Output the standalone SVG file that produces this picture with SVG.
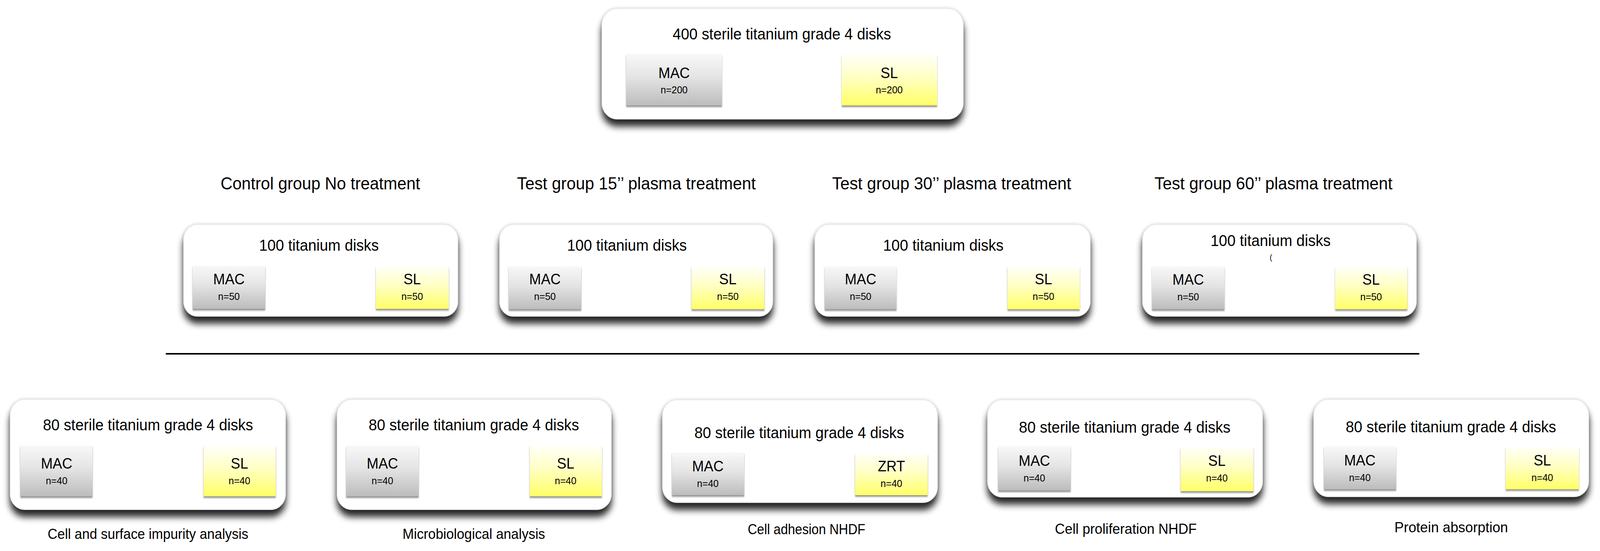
<svg xmlns="http://www.w3.org/2000/svg" width="4410" height="1411" viewBox="0 0 4410 1411" preserveAspectRatio="none">
<defs>
  <linearGradient id="gMac" x1="0" y1="0" x2="0" y2="1">
    <stop offset="0" stop-color="#f8f8f8"/>
    <stop offset="0.45" stop-color="#e4e4e4"/>
    <stop offset="1" stop-color="#bcbcbc"/>
  </linearGradient>
  <linearGradient id="gSl" x1="0" y1="0" x2="0" y2="1">
    <stop offset="0" stop-color="#fffffa"/>
    <stop offset="0.45" stop-color="#ffffc4"/>
    <stop offset="1" stop-color="#ffff66"/>
  </linearGradient>
  <filter id="sh" x="-5%" y="-15%" width="110%" height="145%">
    <feGaussianBlur in="SourceAlpha" stdDeviation="9" result="b"/>
    <feOffset in="b" dy="18" result="o"/>
    <feComponentTransfer in="o" result="o2"><feFuncA type="linear" slope="0.85"/></feComponentTransfer>
    <feGaussianBlur in="SourceAlpha" stdDeviation="4" result="g"/>
    <feComponentTransfer in="g" result="g2"><feFuncA type="linear" slope="0.2"/></feComponentTransfer>
    <feMerge><feMergeNode in="o2"/><feMergeNode in="g2"/><feMergeNode in="SourceGraphic"/></feMerge>
  </filter>
  <filter id="ss" x="-10%" y="-10%" width="120%" height="125%">
    <feGaussianBlur in="SourceAlpha" stdDeviation="2" result="b"/>
    <feOffset in="b" dy="4" result="o"/>
    <feComponentTransfer in="o" result="o2"><feFuncA type="linear" slope="0.45"/></feComponentTransfer>
    <feMerge><feMergeNode in="o2"/><feMergeNode in="SourceGraphic"/></feMerge>
  </filter>
</defs>
<style>
  svg{width:100vw;height:100vh;display:block}
  .t{font-family:"Liberation Sans",Arial,sans-serif;fill:#000;text-anchor:middle}
  .big{font-size:40px}
  .grp{font-size:44px}
  .sub{font-size:39px}
  .n{font-size:26.5px}
  .lbl{font-size:37px}
  .outer{fill:#fff;stroke:#e6e6e6;stroke-width:1.5;filter:url(#sh)}
  .mac{fill:url(#gMac);filter:url(#ss)}
  .sl{fill:url(#gSl);filter:url(#ss)}
  .line{stroke:#000;stroke-width:4;fill:none}
</style>
<rect width="4410" height="1411" fill="#fff"/>

<g id="top">
  <rect class="outer" x="1659" y="22" width="996" height="283" rx="42"/>
  <text class="t big" x="2155" y="101" textLength="602" lengthAdjust="spacingAndGlyphs">400 sterile titanium grade 4 disks</text>
  <rect class="mac" x="1726" y="138" width="264" height="132"/>
  <text class="t sub" x="1858" y="200">MAC</text>
  <text class="t n" x="1858" y="239">n=200</text>
  <rect class="sl" x="2320" y="138" width="263" height="132"/>
  <text class="t sub" x="2451" y="200">SL</text>
  <text class="t n" x="2451" y="239">n=200</text>
</g>

<g id="control">
  <text class="t grp" x="883" y="485" textLength="550" lengthAdjust="spacingAndGlyphs">Control group No treatment</text>
  <rect class="outer" x="506" y="575" width="756" height="235" rx="38"/>
  <text class="t big" x="879" y="642" textLength="330" lengthAdjust="spacingAndGlyphs">100 titanium disks</text>
  <rect class="mac" x="531" y="681" width="200" height="110"/>
  <text class="t sub" x="631" y="728">MAC</text>
  <text class="t n" x="631" y="768">n=50</text>
  <rect class="sl" x="1036" y="681" width="201" height="110"/>
  <text class="t sub" x="1136" y="728">SL</text>
  <text class="t n" x="1136" y="768">n=50</text>
</g>

<g id="test15">
  <text class="t grp" x="1754" y="485" textLength="658" lengthAdjust="spacingAndGlyphs">Test group 15’’ plasma treatment</text>
  <rect class="outer" x="1377" y="575" width="753" height="235" rx="38"/>
  <text class="t big" x="1728" y="642" textLength="330" lengthAdjust="spacingAndGlyphs">100 titanium disks</text>
  <rect class="mac" x="1402" y="682" width="200" height="110"/>
  <text class="t sub" x="1502" y="728">MAC</text>
  <text class="t n" x="1502" y="768">n=50</text>
  <rect class="sl" x="1906" y="682" width="201" height="110"/>
  <text class="t sub" x="2006" y="728">SL</text>
  <text class="t n" x="2006" y="768">n=50</text>
</g>

<g id="test30">
  <text class="t grp" x="2623" y="485" textLength="659" lengthAdjust="spacingAndGlyphs">Test group 30’’ plasma treatment</text>
  <rect class="outer" x="2246" y="575" width="759" height="235" rx="38"/>
  <text class="t big" x="2600" y="642" textLength="332" lengthAdjust="spacingAndGlyphs">100 titanium disks</text>
  <rect class="mac" x="2273" y="682" width="198" height="110"/>
  <text class="t sub" x="2372" y="728">MAC</text>
  <text class="t n" x="2372" y="768">n=50</text>
  <rect class="sl" x="2777" y="682" width="199" height="110"/>
  <text class="t sub" x="2876" y="728">SL</text>
  <text class="t n" x="2876" y="768">n=50</text>
</g>

<g id="test60">
  <text class="t grp" x="3510" y="485" textLength="656" lengthAdjust="spacingAndGlyphs">Test group 60’’ plasma treatment</text>
  <rect class="outer" x="3149" y="575" width="755" height="235" rx="38"/>
  <text class="t big" x="3502" y="630" textLength="331" lengthAdjust="spacingAndGlyphs">100 titanium disks</text>
  <text class="t" x="3503" y="666" font-size="20">(</text>
  <rect class="mac" x="3175" y="682" width="200" height="110"/>
  <text class="t sub" x="3275" y="729">MAC</text>
  <text class="t n" x="3275" y="769">n=50</text>
  <rect class="sl" x="3680" y="682" width="199" height="110"/>
  <text class="t sub" x="3779" y="729">SL</text>
  <text class="t n" x="3779" y="769">n=50</text>
</g>

<g id="connectors">
  <line class="line" x1="457" y1="906" x2="3912" y2="906"/>
</g>

<g id="impurity">
  <rect class="outer" x="28" y="1023" width="759" height="282" rx="40"/>
  <text class="t big" x="408" y="1102" textLength="579" lengthAdjust="spacingAndGlyphs">80 sterile titanium grade 4 disks</text>
  <rect class="mac" x="56" y="1141" width="199" height="130"/>
  <text class="t sub" x="156" y="1200">MAC</text>
  <text class="t n" x="156" y="1240">n=40</text>
  <rect class="sl" x="561" y="1141" width="199" height="130"/>
  <text class="t sub" x="660" y="1200">SL</text>
  <text class="t n" x="660" y="1240">n=40</text>
  <text class="t lbl" x="408" y="1380" textLength="553" lengthAdjust="spacingAndGlyphs">Cell and surface impurity analysis</text>
</g>

<g id="micro">
  <rect class="outer" x="929" y="1023" width="756" height="282" rx="40"/>
  <text class="t big" x="1306" y="1102" textLength="580" lengthAdjust="spacingAndGlyphs">80 sterile titanium grade 4 disks</text>
  <rect class="mac" x="954" y="1141" width="200" height="130"/>
  <text class="t sub" x="1054" y="1200">MAC</text>
  <text class="t n" x="1054" y="1240">n=40</text>
  <rect class="sl" x="1460" y="1141" width="199" height="130"/>
  <text class="t sub" x="1559" y="1200">SL</text>
  <text class="t n" x="1559" y="1240">n=40</text>
  <text class="t lbl" x="1306" y="1380" textLength="393" lengthAdjust="spacingAndGlyphs">Microbiological analysis</text>
</g>

<g id="adhesion">
  <rect class="outer" x="1826" y="1024" width="758" height="263" rx="40"/>
  <text class="t big" x="2203" y="1122" textLength="578" lengthAdjust="spacingAndGlyphs">80 sterile titanium grade 4 disks</text>
  <rect class="mac" x="1852" y="1159" width="199" height="109"/>
  <text class="t sub" x="1951" y="1207">MAC</text>
  <text class="t n" x="1951" y="1247">n=40</text>
  <rect class="sl" x="2357" y="1161" width="200" height="107"/>
  <text class="t sub" x="2457" y="1207">ZRT</text>
  <text class="t n" x="2457" y="1247">n=40</text>
  <text class="t lbl" x="2223" y="1368" textLength="324" lengthAdjust="spacingAndGlyphs">Cell adhesion NHDF</text>
</g>

<g id="proliferation">
  <rect class="outer" x="2722" y="1024" width="758" height="249" rx="40"/>
  <text class="t big" x="3100" y="1108" textLength="583" lengthAdjust="spacingAndGlyphs">80 sterile titanium grade 4 disks</text>
  <rect class="mac" x="2751" y="1143" width="200" height="113"/>
  <text class="t sub" x="2851" y="1193">MAC</text>
  <text class="t n" x="2851" y="1233">n=40</text>
  <rect class="sl" x="3254" y="1145" width="201" height="113"/>
  <text class="t sub" x="3354" y="1193">SL</text>
  <text class="t n" x="3354" y="1233">n=40</text>
  <text class="t lbl" x="3103" y="1367" textLength="391" lengthAdjust="spacingAndGlyphs">Cell proliferation NHDF</text>
</g>

<g id="protein">
  <rect class="outer" x="3621" y="1023" width="758" height="249" rx="40"/>
  <text class="t big" x="3999" y="1107" textLength="580" lengthAdjust="spacingAndGlyphs">80 sterile titanium grade 4 disks</text>
  <rect class="mac" x="3649" y="1143" width="199" height="110"/>
  <text class="t sub" x="3748" y="1192">MAC</text>
  <text class="t n" x="3748" y="1232">n=40</text>
  <rect class="sl" x="4150" y="1143" width="202" height="110"/>
  <text class="t sub" x="4251" y="1192">SL</text>
  <text class="t n" x="4251" y="1232">n=40</text>
  <text class="t lbl" x="4000" y="1363" textLength="313" lengthAdjust="spacingAndGlyphs">Protein absorption</text>
</g>
</svg>
